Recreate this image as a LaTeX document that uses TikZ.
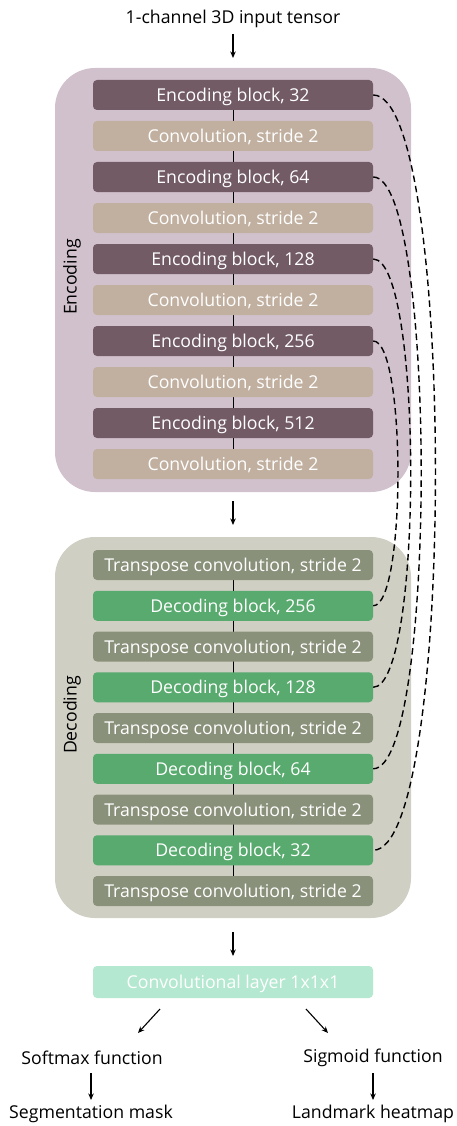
\documentclass[tikz,border=0pt]{standalone}
\usepackage{fontspec}
\setmainfont{Open Sans}
\usetikzlibrary{arrows.meta,backgrounds}

\definecolor{encpanel}{RGB}{209,193,205}
\definecolor{encdark}{RGB}{115,91,102}
\definecolor{enctan}{RGB}{193,176,160}
\definecolor{decpanel}{RGB}{208,207,196}
\definecolor{decgrey}{RGB}{138,145,122}
\definecolor{decgreen}{RGB}{88,170,110}
\definecolor{mint}{RGB}{180,232,208}

\begin{document}
\begin{tikzpicture}[
		x=1pt, y=-1pt,
		font=\fontsize{17.7}{20}\selectfont
	]
	\tikzset{
		blk/.style = {rectangle, rounded corners=4pt, minimum width=280pt, minimum height=30pt, inner sep=0pt, text height=13pt, text depth=0pt, text=white},
		encb/.style = {blk, fill=encdark},
		convb/.style = {blk, fill=enctan},
		tconvb/.style = {blk, fill=decgrey},
		decb/.style = {blk, fill=decgreen},
		outb/.style = {blk, fill=mint},
		plain/.style = {inner sep=1pt},
		arr/.style = {-{Stealth[length=6.5pt,width=5.5pt]}, line width=1.1pt},
		skip/.style = {dashed, dash pattern=on 6.5pt off 4pt, line width=1.4pt},
		panel/.style = {rounded corners=40pt},
	}
	\useasboundingbox (0,0) rectangle (456,1126);
		% encoder
		\node[plain] at (233,19) (inp) {1-channel 3D input tensor};
		\node[encb] at (233,95) (e32) {Encoding block, 32};
		\node[convb] at (233,136) (c1) {Convolution, stride 2};
		\node[encb] at (233,177) (e64) {Encoding block, 64};
		\node[convb] at (233,218) (c2) {Convolution, stride 2};
		\node[encb] at (233,259) (e128) {Encoding block, 128};
		\node[convb] at (233,300) (c3) {Convolution, stride 2};
		\node[encb] at (233,341) (e256) {Encoding block, 256};
		\node[convb] at (233,382) (c4) {Convolution, stride 2};
		\node[encb] at (233,423) (e512) {Encoding block, 512};
		\node[convb] at (233,464) (c5) {Convolution, stride 2};
		\node[rotate=90] at (72,277) (enc) {Encoding};
		%
		% decoder
		\node[tconvb] at (233,565) (t1) {Transpose convolution, stride 2};
		\node[decb] at (233,605.75) (d256) {Decoding block, 256};
		\node[tconvb] at (233,646.5) (t2) {Transpose convolution, stride 2};
		\node[decb] at (233,687.25) (d128) {Decoding block, 128};
		\node[tconvb] at (233,728) (t3) {Transpose convolution, stride 2};
		\node[decb] at (233,768.75) (d64) {Decoding block, 64};
		\node[tconvb] at (233,809.5) (t4) {Transpose convolution, stride 2};
		\node[decb] at (233,850.25) (d32) {Decoding block, 32};
		\node[tconvb] at (233,891) (t5) {Transpose convolution, stride 2};
		\node[rotate=90] at (72,715) (dec) {Decoding};
		%
		% output heads
		\node[outb, minimum height=32pt] at (233,982) (head) {Convolutional layer 1x1x1};
		\node[plain] at (92,1058) (soft) {Softmax function};
		\node[plain] at (373,1058) (sig) {Sigmoid function};
		\node[plain] at (91,1114) (seg) {Segmentation mask};
		\node[plain] at (373,1114) (land) {Landmark heatmap};
		\coordinate (h1) at (160,1009);
		\coordinate (h2) at (306,1009);
		\coordinate (s1) at (138,1033);
		\coordinate (s2) at (328,1033);
		%
		\begin{scope}[on background layer]
			\fill[encpanel, panel] (55,68) rectangle (411,492);
			\fill[decpanel, panel] (55,537) rectangle (411,918);
			\draw[line width=1pt] (e32.center) -- (c5.center);
			\draw[line width=1pt] (t1.center) -- (t5.center);
		\end{scope}
		%
		\draw[arr] (233,34) -- (233,58);
		\draw[arr] (233,501) -- (233,525);
		\draw[arr] (233,932) -- (233,956);
		\draw[arr] (h1) -- (s1);
		\draw[arr] (h2) -- (s2);
		\draw[arr] (91,1073) -- (91,1100);
		\draw[arr] (373,1073) -- (373,1100);
		%
		% skip connections
		\draw[skip] (e32.east) to[out=0, in=0, distance=83pt] (d32.east);
		\draw[skip] (e64.east) to[out=0, in=0, distance=64pt] (d64.east);
		\draw[skip] (e128.east) to[out=0, in=0, distance=50pt] (d128.east);
		\draw[skip] (e256.east) to[out=0, in=0, distance=33pt] (d256.east);
	\end{tikzpicture}
\end{document}
